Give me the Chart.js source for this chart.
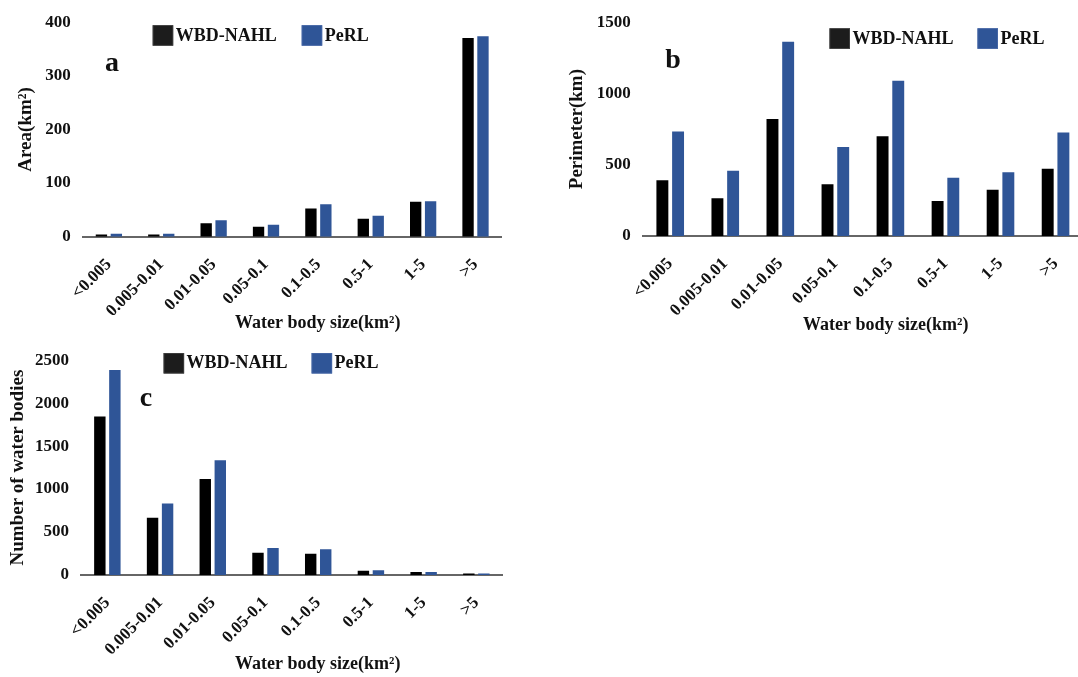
<!DOCTYPE html>
<html>
<head>
<meta charset="utf-8">
<script src="https://cdn.jsdelivr.net/npm/chart.js@4.4.1/dist/chart.umd.min.js"></script>
<style>
  html, body { margin: 0; padding: 0; background: #ffffff; overflow: hidden; width: 1078px; height: 677px; }
  canvas { position: absolute; }
</style>
</head>
<body>
<canvas id="chartArea" width="540" height="338" style="left:0;top:0"></canvas>
<canvas id="chartPerimeter" width="548" height="338" style="left:540px;top:0"></canvas>
<canvas id="chartCount" width="540" height="339" style="left:0;top:338px"></canvas>
<script>
// Water body size classes (km²)
const sizeClasses = ['<0.005', '0.005-0.01', '0.01-0.05', '0.05-0.1', '0.1-0.5', '0.5-1', '1-5', '>5'];
const seriesNames = ['WBD-NAHL', 'PeRL'];

// a: total area (km²)
const areaWbd  = [4, 4, 25, 18.5, 52.5, 33.5, 65, 370.5];
const areaPerl = [5.5, 5.5, 30.5, 22.5, 60.5, 39, 66, 374];
const areaTicks = [0, 100, 200, 300, 400];

// b: total perimeter (km)
const perimWbd  = [391, 264, 821, 363, 699, 246, 324, 471];
const perimPerl = [733, 457, 1362, 625, 1090, 409, 448, 726];
const perimTicks = [0, 500, 1000, 1500];

// c: number of water bodies
const countWbd  = [1846, 665, 1117, 259, 248, 49, 34, 17];
const countPerl = [2387, 831, 1335, 315, 300, 56, 34, 17];
const countTicks = [0, 500, 1000, 1500, 2000, 2500];

const xTitle = 'Water body size(km²)';
const SERIF = "'Liberation Serif', 'Times New Roman', serif";
const COLORS = ['#000000', '#2F5597'];
const LEGEND_COLORS = ['#1c1c1c', '#2F5597'];

// Draws the in-plot legend, the panel letter and the x-axis title
const panelDecor = {
  id: 'panelDecor',
  afterDraw(chart, args, opts) {
    const ctx = chart.ctx;
    ctx.save();
    ctx.font = 'bold 18px ' + SERIF;
    ctx.textBaseline = 'middle';
    ctx.textAlign = 'left';
    chart.data.datasets.forEach((ds, i) => {
      const bx = opts.legendX[i], by = opts.legendY;
      ctx.fillStyle = LEGEND_COLORS[i];
      ctx.fillRect(bx, by, 20.5, 20.5);
      ctx.strokeStyle = i === 0 ? '#444444' : '#4a6aa8';
      ctx.lineWidth = 0.8;
      ctx.strokeRect(bx + 0.4, by + 0.4, 19.7, 19.7);
      ctx.fillStyle = '#111111';
      ctx.fillText(ds.label, bx + 23, by + 10.8);
    });
    ctx.font = 'bold 28px ' + SERIF;
    ctx.textAlign = 'center';
    ctx.fillText(opts.letter, opts.letterX, opts.letterY);
    ctx.font = 'bold 18px ' + SERIF;
    ctx.fillText(xTitle, opts.xTitleX, opts.xTitleY);
    ctx.restore();
  }
};

function makeChart(id, wbd, perl, ticks, yTitle, box, decor) {
  const canvas = document.getElementById(id);
  const W = canvas.width, H = canvas.height;
  return new Chart(canvas, {
    type: 'bar',
    data: {
      labels: sizeClasses,
      datasets: [
        { label: seriesNames[0], data: wbd, backgroundColor: COLORS[0], borderWidth: 0 },
        { label: seriesNames[1], data: perl, backgroundColor: COLORS[1], borderWidth: 0 }
      ]
    },
    options: {
      responsive: false,
      animation: false,
      devicePixelRatio: 1,
      datasets: { bar: { categoryPercentage: 0.57, barPercentage: 0.76 } },
      layout: { padding: { left: 0, top: box.top, right: W - box.right, bottom: 0 } },
      plugins: {
        legend: { display: false },
        tooltip: { enabled: false },
        panelDecor: decor
      },
      scales: {
        x: {
          afterFit(s) { s.height = H - box.bottom; },
          grid: { display: true, drawOnChartArea: false, drawTicks: false },
          border: { display: true, color: '#666666', width: 2 },
          ticks: {
            autoSkip: false, maxRotation: 45, minRotation: 45, padding: 18,
            color: '#111111', font: { family: SERIF, size: 17, weight: 'bold' }
          }
        },
        y: {
          min: ticks[0], max: ticks[ticks.length - 1],
          afterFit(s) { s.width = box.left; },
          afterBuildTicks(s) { s.ticks = ticks.map(v => ({ value: v })); },
          grid: { display: false, drawTicks: false },
          border: { display: false },
          ticks: {
            padding: 12, color: '#111111',
            callback: v => String(v),
            font: { family: SERIF, size: 17, weight: 'bold' }
          },
          title: {
            display: true, text: yTitle, color: '#111111',
            padding: { top: box.titlePad, bottom: 0 },
            font: { family: SERIF, size: 19, weight: 'bold' }
          }
        }
      }
    },
    plugins: [panelDecor]
  });
}

makeChart('chartArea', areaWbd, areaPerl, areaTicks, 'Area(km²)',
  { left: 82.7, right: 501.7, top: 19.3, bottom: 236.7, titlePad: 14.4 },
  { legendX: [152.7, 301.7], legendY: 25.2, letter: 'a', letterX: 112, letterY: 64, xTitleX: 317.7, xTitleY: 323 });

makeChart('chartPerimeter', perimWbd, perimPerl, perimTicks, 'Perimeter(km)',
  { left: 102.7, right: 547.5, top: 18, bottom: 236, titlePad: 25.6 },
  { legendX: [289.5, 437.5], legendY: 28.3, letter: 'b', letterX: 133, letterY: 61, xTitleX: 345.7, xTitleY: 325 });

makeChart('chartCount', countWbd, countPerl, countTicks, 'Number of water bodies',
  { left: 81, right: 502.7, top: 14.5, bottom: 237, titlePad: 7.1 },
  { legendX: [163.6, 311.6], legendY: 15, letter: 'c', letterX: 146, letterY: 61, xTitleX: 317.8, xTitleY: 326 });
</script>
</body>
</html>
